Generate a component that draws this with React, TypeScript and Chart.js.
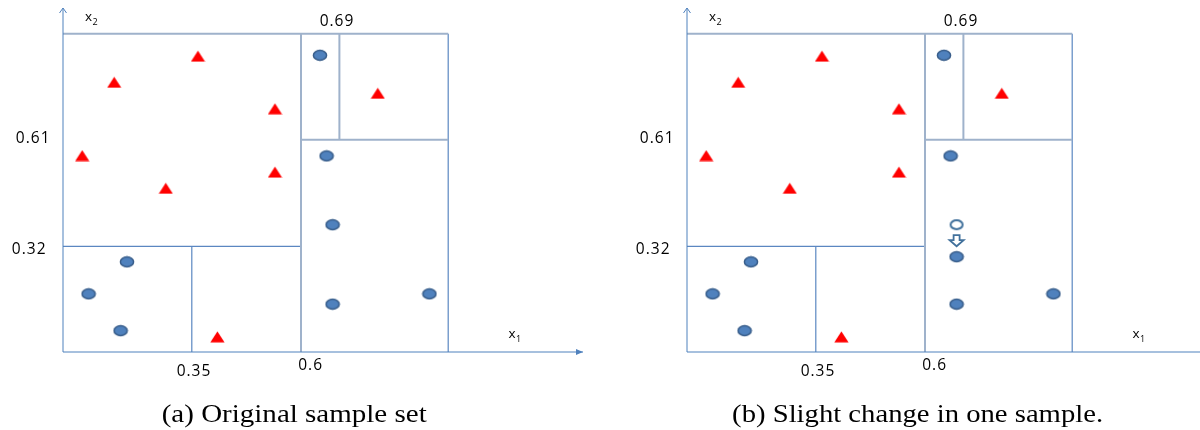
import React, { useEffect, useRef } from 'react';
import { Chart, registerables } from 'chart.js';

Chart.register(...registerables);

// ---- schematic coordinate system (arbitrary diagram units) ----
const X_MAX = 1.3;
const Y_MAX = 1.0;

// split positions (as drawn in the figure)
const xSplit035 = 0.322;
const xSplit06 = 0.595;
const xSplit069 = 0.691;
const xRightEdge = 0.963;
const yTopEdge = 0.925;
const ySplit061 = 0.617;
const ySplit032 = 0.307;

// tick label texts
const xTickLabels = ['0.35', '0.6'];
const yTickLabels = ['0.61', '0.32'];
const topTickLabel = '0.69';
const captions = ['(a) Original sample set', '(b) Slight change in one sample.'];

// class "triangle" samples (same in both panels)
const triangles = [
  { x: 0.3375, y: 0.86 },
  { x: 0.128, y: 0.784 },
  { x: 0.53, y: 0.707 },
  { x: 0.048, y: 0.571 },
  { x: 0.53, y: 0.523 },
  { x: 0.257, y: 0.476 },
  { x: 0.386, y: 0.044 },
  { x: 0.787, y: 0.752 },
];

// class "circle" samples, panel (a)
const circlesA = [
  { x: 0.6425, y: 0.8625 },
  { x: 0.659, y: 0.57 },
  { x: 0.674, y: 0.37 },
  { x: 0.674, y: 0.139 },
  { x: 0.916, y: 0.169 },
  { x: 0.16, y: 0.262 },
  { x: 0.064, y: 0.169 },
  { x: 0.144, y: 0.062 },
];

// panel (b): one sample moved
const movedFrom = [{ x: 0.674, y: 0.37 }];
const movedTo = [{ x: 0.674, y: 0.277 }];
const circlesB = [
  { x: 0.6425, y: 0.8625 },
  { x: 0.659, y: 0.57 },
  { x: 0.674, y: 0.277 },
  { x: 0.674, y: 0.139 },
  { x: 0.916, y: 0.169 },
  { x: 0.16, y: 0.262 },
  { x: 0.064, y: 0.169 },
  { x: 0.144, y: 0.062 },
];

const GREY = '#9fb2cb';
const BLUE = '#5b87c1';
const AXIS = '#4f81bd';

function makeEllipse(w: number, h: number, rx: number, ry: number, fill: string, stroke: string, lw: number) {
  const c = document.createElement('canvas');
  c.width = w;
  c.height = h;
  const g = c.getContext('2d')!;
  g.beginPath();
  g.ellipse(w / 2, h / 2, rx, ry, 0, 0, Math.PI * 2);
  g.fillStyle = fill;
  g.fill();
  g.lineWidth = lw;
  g.strokeStyle = stroke;
  g.stroke();
  return c;
}

function makeTriangle() {
  const c = document.createElement('canvas');
  c.width = 15;
  c.height = 12;
  const g = c.getContext('2d')!;
  g.beginPath();
  g.moveTo(7.5, 0.5);
  g.lineTo(14.6, 11.5);
  g.lineTo(0.4, 11.5);
  g.closePath();
  g.fillStyle = '#ff0000';
  g.fill();
  return c;
}

function seg(x1: number, y1: number, x2: number, y2: number, color: string, width: number) {
  return {
    type: 'scatter' as const,
    data: [
      { x: x1, y: y1 },
      { x: x2, y: y2 },
    ],
    showLine: true,
    borderColor: color,
    borderWidth: width,
    pointRadius: 0,
    clip: false as any,
    order: 5,
  };
}

function Panel({ which, left }: { which: 0 | 1; left: number }) {
  const ref = useRef<HTMLCanvasElement>(null);
  useEffect(() => {
    const canvas = ref.current!;
    const circleImg = makeEllipse(16, 13, 6.6, 4.9, '#4f81bd', '#385d8a', 1.5);
    const hollowImg = makeEllipse(16, 13, 6.0, 4.4, '#ffffff', '#41719c', 2);
    const triImg = makeTriangle();
    const circles = which === 0 ? circlesA : circlesB;

    const datasets: any[] = [
      {
        type: 'scatter',
        data: triangles,
        pointStyle: triImg,
        pointRadius: 7,
        clip: false,
        order: 0,
      },
      {
        type: 'scatter',
        data: circles,
        pointStyle: circleImg,
        pointRadius: 7,
        clip: false,
        order: 0,
      },
      // axes
      seg(0, 0, X_MAX, 0, AXIS, 1),
      seg(0, 0, 0, Y_MAX, AXIS, 1),
      // partition lines
      seg(0, yTopEdge, xRightEdge, yTopEdge, GREY, 2),
      seg(xSplit06, 0, xSplit06, yTopEdge, GREY, 2),
      seg(xSplit069, ySplit061, xSplit069, yTopEdge, GREY, 2),
      seg(xSplit06, ySplit061, xRightEdge, ySplit061, GREY, 2),
      seg(0, ySplit032, xSplit06, ySplit032, BLUE, 1.2),
      seg(xSplit035, 0, xSplit035, ySplit032, BLUE, 1.2),
      seg(xRightEdge, 0, xRightEdge, yTopEdge, BLUE, 1.2),
    ];
    if (which === 1) {
      datasets.unshift({
        type: 'scatter',
        data: movedFrom,
        pointStyle: hollowImg,
        pointRadius: 7,
        clip: false,
        order: 0,
      });
    }

    const decor = {
      id: 'decor',
      afterDatasetsDraw(chart: any) {
        const ctx: CanvasRenderingContext2D = chart.ctx;
        const xs = chart.scales.x;
        const ys = chart.scales.y;
        const px = (v: number) => xs.getPixelForValue(v);
        const py = (v: number) => ys.getPixelForValue(v);
        ctx.save();

        // y-axis open arrow head
        const ax = px(0);
        const ayTop = py(Y_MAX);
        ctx.strokeStyle = AXIS;
        ctx.lineWidth = 1;
        ctx.beginPath();
        ctx.moveTo(ax - 3.5, ayTop + 5);
        ctx.lineTo(ax, ayTop);
        ctx.lineTo(ax + 3.5, ayTop + 5);
        ctx.stroke();

        // x-axis filled arrow head
        const bx = px(X_MAX);
        const by = py(0);
        ctx.fillStyle = AXIS;
        ctx.beginPath();
        ctx.moveTo(bx, by);
        ctx.lineTo(bx - 7, by - 3);
        ctx.lineTo(bx - 7, by + 3);
        ctx.closePath();
        ctx.fill();

        // movement arrow in panel (b)
        if (which === 1) {
          const cx = px(movedFrom[0].x);
          const cy = (py(movedFrom[0].y) + py(movedTo[0].y)) / 2;
          ctx.beginPath();
          ctx.moveTo(cx - 3, cy - 5.5);
          ctx.lineTo(cx + 3, cy - 5.5);
          ctx.lineTo(cx + 3, cy - 0.5);
          ctx.lineTo(cx + 7, cy - 0.5);
          ctx.lineTo(cx, cy + 5.5);
          ctx.lineTo(cx - 7, cy - 0.5);
          ctx.lineTo(cx - 3, cy - 0.5);
          ctx.closePath();
          ctx.fillStyle = '#ffffff';
          ctx.fill();
          ctx.strokeStyle = '#41719c';
          ctx.lineWidth = 1.8;
          ctx.stroke();
        }

        // tick labels
        ctx.fillStyle = '#000000';
        ctx.font = '15.5px "Open Sans"';
        (ctx as any).letterSpacing = '1px';
        ctx.textBaseline = 'middle';
        ctx.textAlign = 'center';
        ctx.fillText(xTickLabels[0], px(xSplit035) + 2.2, py(0) + 20);
        ctx.fillText(xTickLabels[1], px(xSplit06) + 9.6, py(0) + 14);
        ctx.fillText(topTickLabel, px(xSplit069) - 2.4, py(yTopEdge) - 12);
        ctx.textAlign = 'right';
        ctx.fillText(yTickLabels[0], px(0) - 12.5, py(ySplit061) - 1.5);
        ctx.fillText(yTickLabels[1], px(0) - 16.5, py(ySplit032) + 3.4);

        // axis names x1 / x2
        (ctx as any).letterSpacing = '0px';
        ctx.textAlign = 'left';
        ctx.textBaseline = 'alphabetic';
        const drawSub = (main: string, sub: string, x: number, y: number) => {
          ctx.font = '13.5px "Open Sans"';
          ctx.fillText(main, x, y);
          const w = ctx.measureText(main).width;
          ctx.font = '9px "Open Sans"';
          ctx.fillText(sub, x + w + 0.5, y + 4);
        };
        drawSub('x', '1', xs.right - 74.5, py(0) - 14);
        drawSub('x', '2', xs.left + 22, ys.top + 12.7);

        // caption
        ctx.font = '25px "Liberation Serif"';
        ctx.fillStyle = '#000000';
        const cap = captions[which];
        const target = which === 0 ? 265 : 371;
        const center = which === 0 ? 294.2 : 293.6;
        const mw = ctx.measureText(cap).width;
        const sx = target / mw;
        ctx.translate(center, 421.5);
        ctx.scale(sx, 1);
        ctx.textAlign = 'center';
        ctx.fillText(cap, 0, 0);

        ctx.restore();
      },
    };

    const chart = new Chart(canvas, {
      type: 'scatter',
      data: { datasets },
      options: {
        animation: false,
        responsive: false,
        events: [],
        layout: { padding: { left: 63, right: 17, top: 8, bottom: 78 } },
        plugins: { legend: { display: false }, tooltip: { enabled: false }, title: { display: false } },
        scales: {
          x: { type: 'linear', min: 0, max: X_MAX, display: false },
          y: { type: 'linear', min: 0, max: Y_MAX, display: false },
        },
      },
      plugins: [decor],
    });
    return () => chart.destroy();
  }, [which]);

  return (
    <canvas
      ref={ref}
      width={600}
      height={430}
      style={{ position: 'absolute', left, top: 0, width: 600, height: 430, display: 'block' }}
    />
  );
}

export default function App() {
  return (
    <div
      style={{
        position: 'absolute',
        left: 0,
        top: 0,
        width: 1200,
        height: 430,
        overflow: 'hidden',
        background: '#ffffff',
      }}
    >
      <Panel which={0} left={0} />
      <Panel which={1} left={624} />
    </div>
  );
}
